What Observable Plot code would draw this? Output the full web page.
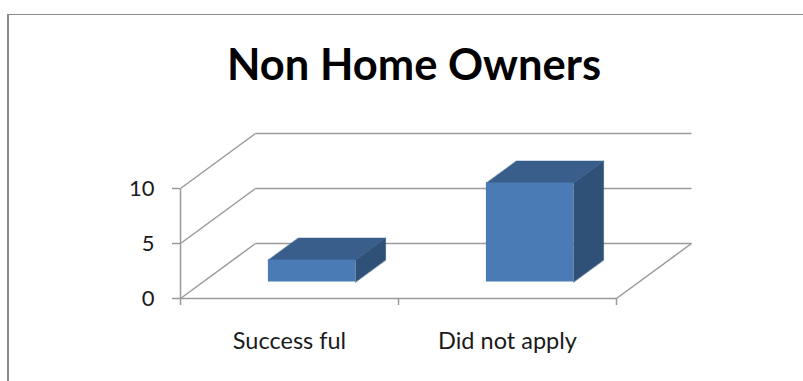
<!DOCTYPE html>
<html>
<head>
<meta charset="utf-8">
<script src="https://cdn.jsdelivr.net/npm/d3@7"></script>
<script src="https://cdn.jsdelivr.net/npm/@observablehq/plot@0.6"></script>
<style>
html, body { margin: 0; padding: 0; background: #fff; width: 803px; height: 381px; overflow: hidden; position: relative; }
#frame { position: absolute; left: 7px; top: 14px; width: 900px; height: 500px; border-left: 2px solid #8a8a8a; border-top: 1px solid #8a8a8a; box-sizing: border-box; }
#title { position: absolute; left: 0; top: 42px; width: 828px; text-align: center; font: bold 43.5px Lato, sans-serif; line-height: 43px; color: #000; white-space: nowrap; }
#chart { position: absolute; left: 0; top: 120px; }
</style>
</head>
<body>
<div id="frame"></div>
<div id="title">Non Home Owners</div>
<div id="chart"></div>
<script>
// ---- data ----
const categories = ["Success ful", "Did not apply"];
const values = [2, 9];
const yTicks = [0, 5, 10];

// ---- pseudo-3D projection (depth d in [0,1]) ----
const DX = 75 / 218;   // horizontal shift of the full depth, in category units
const DY = 5;          // vertical shift of the full depth, in value units
const HALF = 0.2;      // half bar width (category units)
const D0 = 0.3, D1 = 0.7; // bar depth span
const nCat = categories.length;
const P = (x, v, d) => [x + DX * d, v + DY * d];

// grid / wall segments
const segs = [];
for (const v of yTicks) {
  const a = P(0, v, 1), b = P(nCat, v, 1);
  segs.push({x1: a[0], y1: a[1], x2: b[0], y2: b[1]});          // back wall
  const c = P(0, v, 0);
  segs.push({x1: c[0], y1: c[1], x2: a[0], y2: a[1]});          // side wall diagonal
}
{
  const a = P(0, 0, 0), b = P(nCat, 0, 0), c = P(nCat, 0, 1), t = P(0, d3.max(yTicks), 0);
  segs.push({x1: a[0], y1: a[1], x2: b[0], y2: b[1]});          // floor front edge
  segs.push({x1: b[0], y1: b[1], x2: c[0], y2: c[1]});          // floor right edge
  segs.push({x1: a[0], y1: a[1], x2: t[0], y2: t[1]});          // value axis line
}

// bar faces
const fronts = values.map((v, i) => {
  const c = i + 0.5;
  const a = P(c - HALF, 0, D0), b = P(c + HALF, v, D0);
  return {x1: a[0], x2: b[0], y1: a[1], y2: b[1]};
});
const tops = [], sides = [];
values.forEach((v, i) => {
  const c = i + 0.5;
  [[c - HALF, D0], [c + HALF, D0], [c + HALF, D1], [c - HALF, D1]].forEach(([x, d]) => {
    const p = P(x, v, d); tops.push({k: i, x: p[0], y: p[1]});
  });
  [[0, D0], [v, D0], [v, D1], [0, D1]].forEach(([vv, d]) => {
    const p = P(c + HALF, vv, d); sides.push({k: i, x: p[0], y: p[1]});
  });
});

const GRID = "#9a9a9a";
const chart = Plot.plot({
  width: 803,
  height: 261,
  marginLeft: 180,
  marginRight: 112,
  marginTop: 13,
  marginBottom: 83,
  style: {fontFamily: "Lato, sans-serif", color: "#1a1a1a", background: "transparent", overflow: "visible"},
  x: {domain: [0, nCat + DX], axis: null},
  y: {domain: [0, d3.max(yTicks) + DY], axis: null},
  marks: [
    Plot.link(segs, {x1: "x1", y1: "y1", x2: "x2", y2: "y2", stroke: GRID, strokeWidth: 1.5}),
    Plot.axisY({ticks: yTicks, tickSize: 8, tickPadding: 18, fontSize: 22, stroke: GRID, strokeWidth: 1.5, fill: "#1a1a1a", label: null}),
    Plot.axisX({ticks: d3.range(nCat + 1), tickSize: 7, tickFormat: () => "", stroke: GRID, strokeWidth: 1.5, label: null}),
    Plot.axisX({ticks: categories.map((_, i) => i + 0.5), tickSize: 0, tickPadding: 34, fontSize: 23.5, fill: "#1a1a1a", tickFormat: d => categories[Math.floor(d)], label: null}),
    Plot.line(sides, {x: "x", y: "y", z: "k", curve: "linear-closed", fill: "#2F5077", stroke: "#2F5077", strokeWidth: 0.5}),
    Plot.line(tops, {x: "x", y: "y", z: "k", curve: "linear-closed", fill: "#395E8B", stroke: "#395E8B", strokeWidth: 0.5}),
    Plot.rect(fronts, {x1: "x1", x2: "x2", y1: "y1", y2: "y2", fill: "#4A7BB4"})
  ]
});
document.getElementById("chart").appendChild(chart);
</script>
</body>
</html>
